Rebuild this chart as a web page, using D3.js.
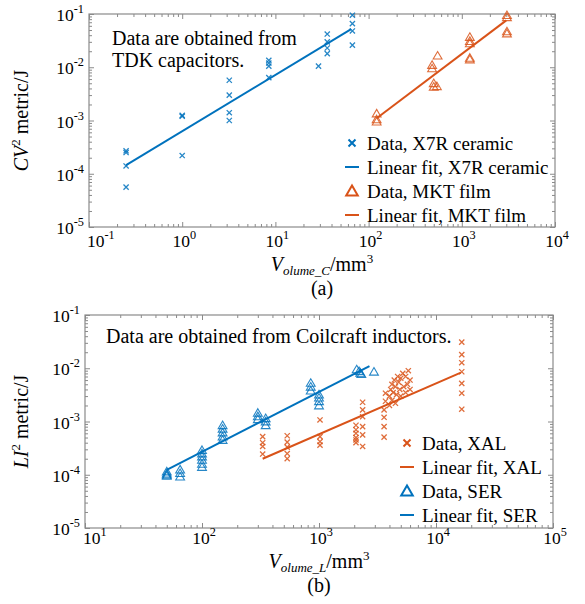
<!DOCTYPE html>
<html><head><meta charset="utf-8">
<script src="https://cdn.jsdelivr.net/npm/d3@7"></script>
<style>
body{margin:0;background:#fff}
svg{display:block}
text{font-family:"Liberation Serif","Times New Roman",serif;fill:#000}
</style>
</head><body>
<svg id="chart" width="585" height="604" font-family="Liberation Serif, serif"></svg>
<script>
// ---------- Panel (a): capacitors ----------
const x7rVol = [0.25,0.25,0.25,0.25, 1,1,1, 3.2,3.2,3.2,3.2, 8.5,8.5,8.5,8.5, 29, 36,36,36,36, 67,67,67,67];
const x7rCV2 = [2.7e-4,2.5e-4,1.4e-4,5.6e-5, 1.25e-3,1.2e-3,2.2e-4, 5.7e-3,3.0e-3,1.4e-3,1.0e-3, 1.35e-2,1.2e-2,1.05e-2,6.4e-3, 1.05e-2, 4.2e-2,3.0e-2,2.3e-2,1.8e-2, 9.5e-2,6.6e-2,4.8e-2,2.6e-2];
const x7rFitVol = [0.25, 65];
const x7rFitCV2 = [1.45e-4, 5.2e-2];

const mktVol = [122,122,122, 480,480,500,500, 550,540, 1220,1220,1220,1220,1220, 3050,3050,3050,3050];
const mktCV2 = [1.35e-3,1.05e-3,9.5e-4, 1.1e-2,9.5e-3,5.0e-3,4.3e-3, 1.65e-2,4.4e-3, 3.7e-2,3.1e-2,2.8e-2,1.5e-2,1.4e-2, 9.5e-2,8.7e-2,4.7e-2,4.3e-2];
const mktFitVol = [122, 3000];
const mktFitCV2 = [1.1e-3, 7.6e-2];

const xTickExpA = [-1,0,1,2,3,4];
const yTickExp = [-1,-2,-3,-4,-5];

// ---------- Panel (b): inductors ----------
const serVol = [50,50,50,50, 65,65,65, 100,100,100,100,100,100, 150,150,150,150,150, 300,300,300, 350,350,350, 850,850,850, 1000,1000,1000,1000, 2100,2200,2250,2300, 2950];
const serLI2 = [1.15e-4,1.05e-4,1.0e-4,9.5e-5, 1.25e-4,1.07e-4,9.2e-5, 2.9e-4,2.5e-4,2.2e-4,1.9e-4,1.6e-4,1.4e-4, 8.5e-4,7.3e-4,6.2e-4,5.2e-4,4.5e-4, 1.45e-3,1.25e-3,1.1e-3, 1.15e-3,1.0e-3,8.5e-4, 5.3e-3,4.5e-3,3.8e-3, 3.2e-3,2.8e-3,2.4e-3,2.0e-3, 9.5e-3,8.8e-3,8.2e-3,7.8e-3, 8.6e-3];
const serFitVol = [50, 2700];
const serFitLI2 = [1.23e-4, 1.1e-2];

const xalVol = [330,330,330,330, 535,535,535,535,535, 1020,1020,1020,1020,
  2070,2070,2070,2070,2070,2070, 2360,2360,2360,2360,2360,2360,
  3600,3600,3600,3600,3700,3700,
  4000,4000,4100,4200,4200,4300,4400,4500,4500,4600,4700,4800,4900,5000,5000,5200,5300,5500,5500,5700,5800,6000,6000,
  16600,16600,16600,16600,16600,16600,16600];
const xalLI2 = [5.2e-4,4.0e-4,3.4e-4,2.45e-4, 5.4e-4,4.1e-4,3.3e-4,2.5e-4,2.0e-4, 1.07e-3,5.2e-4,4.2e-4,3.6e-4,
  8.5e-4,7.0e-4,6.0e-4,5.0e-4,4.5e-4,4.0e-4, 2.3e-3,1.65e-3,1.23e-3,8.0e-4,5.6e-4,3.4e-4,
  1.65e-3,1.2e-3,8.0e-4,5.1e-4,3.4e-3,2.4e-3,
  2.0e-3,3.0e-3,4.0e-3,5.0e-3,2.5e-3,3.5e-3,6.0e-3,4.5e-3,2.2e-3,3.2e-3,7.0e-3,5.5e-3,4.0e-3,3.0e-3,6.5e-3,8.0e-3,4.5e-3,3.5e-3,7.0e-3,5.0e-3,9.0e-3,6.0e-3,4.0e-3,
  3.1e-2,1.8e-2,1.27e-2,8.6e-3,5.2e-3,3.4e-3,1.7e-3];
const xalFitVol = [330, 16300];
const xalFitLI2 = [2.0e-4, 8.3e-3];

const xTickExpB = [1,2,3,4,5];

const blue = "#0072BD", orange = "#D95319";

const svg = d3.select("#chart");

function crossPath(s){ return `M${-s},${-s}L${s},${s}M${-s},${s}L${s},${-s}`; }
function triPath(s){ return `M0,${-s}L${s*1.05},${s*0.8}L${-s*1.05},${s*0.8}Z`; }

function expLabel(sel, exp, size){
  sel.append("tspan").text("10");
  sel.append("tspan").attr("dy", -8).attr("font-size", size*0.7).text(String(exp));
}

function panel(cfg){
  const x = d3.scaleLog().domain(cfg.xDom).range([cfg.left, cfg.right]);
  const y = d3.scaleLog().domain([1e-5, 1e-1]).range([cfg.bottom, cfg.top]);
  const g = svg.append("g");
  const axisCol = "#8a8a8a";

  const majX = cfg.xExp.map(e => Math.pow(10, e));
  const minX = x.ticks().filter(v => Math.abs(Math.log10(v) - Math.round(Math.log10(v))) > 1e-6);
  const majY = yTickExp.map(e => Math.pow(10, e));
  const minY = y.ticks().filter(v => Math.abs(Math.log10(v) - Math.round(Math.log10(v))) > 1e-6);

  function ax(gen, scale, vals, size, tx, ty){
    const a = g.append("g").attr("transform", `translate(${tx},${ty})`)
      .call(gen(scale).tickValues(vals).tickSize(-size).tickFormat(""));
    a.select(".domain").remove();
    a.selectAll("line").attr("stroke", axisCol);
  }
  ax(d3.axisBottom, x, majX, 5, 0, cfg.bottom);
  ax(d3.axisBottom, x, minX, 3, 0, cfg.bottom);
  ax(d3.axisTop, x, majX, 5, 0, cfg.top);
  ax(d3.axisTop, x, minX, 3, 0, cfg.top);
  ax(d3.axisLeft, y, majY, 5, cfg.left, 0);
  ax(d3.axisLeft, y, minY, 3, cfg.left, 0);
  ax(d3.axisRight, y, majY, 5, cfg.right, 0);
  ax(d3.axisRight, y, minY, 3, cfg.right, 0);

  g.append("rect").attr("x", cfg.left).attr("y", cfg.top)
    .attr("width", cfg.right - cfg.left).attr("height", cfg.bottom - cfg.top)
    .attr("fill", "none").attr("stroke", axisCol).attr("stroke-width", 1.2);

  // tick labels
  const fs = 17.5;
  cfg.xExp.forEach((e, i) => {
    const t = g.append("text").attr("font-size", fs)
      .attr("x", i === 0 ? x(Math.pow(10, e)) - 2 : x(Math.pow(10, e)) + 2)
      .attr("y", cfg.bottom + cfg.xLabOff)
      .attr("text-anchor", i === 0 ? "start" : "middle");
    expLabel(t, e, fs);
  });
  yTickExp.forEach(e => {
    const t = g.append("text").attr("font-size", fs)
      .attr("x", cfg.left - 5).attr("y", y(Math.pow(10, e)) + 7)
      .attr("text-anchor", "end");
    expLabel(t, e, fs);
  });

  // x title
  const cx = (cfg.left + cfg.right) / 2;
  const xt = g.append("text").attr("font-size", 20).attr("x", cx).attr("y", cfg.bottom + cfg.xTitleOff).attr("text-anchor", "middle");
  xt.append("tspan").attr("font-style", "italic").text("V");
  xt.append("tspan").attr("font-style", "italic").attr("font-size", 13).attr("dy", 4).text(cfg.sub);
  xt.append("tspan").attr("dy", -4).text("/mm");
  xt.append("tspan").attr("font-size", 13).attr("dy", -8).text("3");
  g.append("text").attr("font-size", 20).attr("x", cx).attr("y", cfg.bottom + cfg.xTitleOff + 24).attr("text-anchor", "middle").text(cfg.tag);

  // y title
  const cy = (cfg.top + cfg.bottom) / 2;
  const yt = g.append("text").attr("font-size", 20).attr("text-anchor", "middle")
    .attr("transform", `translate(28,${cy}) rotate(-90)`);
  yt.append("tspan").attr("font-style", "italic").text(cfg.yVar);
  yt.append("tspan").attr("font-size", 13).attr("dy", -8).text("2");
  yt.append("tspan").attr("dy", 8).text(" metric/J");

  // annotation
  cfg.note.forEach((line, i) => {
    g.append("text").attr("font-size", 20).attr("x", cfg.noteX).attr("y", cfg.noteY + i * 22).text(line);
  });

  // series
  const line = d3.line().x(d => x(d[0])).y(d => y(d[1]));
  cfg.series.forEach(s => {
    const pts = s.xs.map((v, i) => [v, s.ys[i]]);
    if (s.type === "fit") {
      g.append("path").datum(pts).attr("d", line).attr("fill", "none")
        .attr("stroke", s.color).attr("stroke-width", 2);
    } else {
      g.append("g").selectAll("path").data(pts).join("path")
        .attr("transform", d => `translate(${x(d[0])},${y(d[1])})`)
        .attr("d", s.type === "cross" ? crossPath(2.6) : triPath(4.2))
        .attr("fill", "none").attr("stroke", s.color)
        .attr("stroke-width", s.type === "cross" ? 1.3 : 1.1).attr("stroke-opacity", 0.85);
    }
  });

  // legend
  cfg.legend.forEach((it, i) => {
    const ly = cfg.legY + i * 24;
    const mx = cfg.legX;
    if (it.type === "cross") {
      g.append("path").attr("transform", `translate(${mx},${ly})`).attr("d", crossPath(3.5))
        .attr("stroke", it.color).attr("stroke-width", 2).attr("fill", "none");
    } else if (it.type === "tri") {
      g.append("path").attr("transform", `translate(${mx},${ly})`).attr("d", triPath(5.5))
        .attr("stroke", it.color).attr("stroke-width", 2).attr("fill", "none");
    } else {
      g.append("line").attr("x1", mx - 7).attr("x2", mx + 7).attr("y1", ly).attr("y2", ly)
        .attr("stroke", it.color).attr("stroke-width", 2);
    }
    g.append("text").attr("font-size", 19).attr("x", mx + 15).attr("y", ly + 7).text(it.label);
  });
}

panel({
  left: 89, right: 555, top: 14, bottom: 227,
  xDom: [0.1, 1e4], xExp: xTickExpA, xLabOff: 20, xTitleOff: 44,
  sub: "olume_C", tag: "(a)", yVar: "CV",
  note: ["Data are obtained from", "TDK capacitors."], noteX: 112, noteY: 45,
  series: [
    {type: "cross", xs: x7rVol, ys: x7rCV2, color: blue},
    {type: "fit", xs: x7rFitVol, ys: x7rFitCV2, color: blue},
    {type: "tri", xs: mktVol, ys: mktCV2, color: orange},
    {type: "fit", xs: mktFitVol, ys: mktFitCV2, color: orange}
  ],
  legX: 352, legY: 143,
  legend: [
    {type: "cross", color: blue, label: "Data, X7R ceramic"},
    {type: "line", color: blue, label: "Linear fit, X7R ceramic"},
    {type: "tri", color: orange, label: "Data, MKT film"},
    {type: "line", color: orange, label: "Linear fit, MKT film"}
  ]
});

panel({
  left: 85, right: 553, top: 315, bottom: 528,
  xDom: [10, 1e5], xExp: xTickExpB, xLabOff: 16, xTitleOff: 40,
  sub: "olume_L", tag: "(b)", yVar: "LI",
  note: ["Data are obtained from Coilcraft inductors."], noteX: 106, noteY: 343,
  series: [
    {type: "cross", xs: xalVol, ys: xalLI2, color: orange},
    {type: "fit", xs: xalFitVol, ys: xalFitLI2, color: orange},
    {type: "tri", xs: serVol, ys: serLI2, color: blue},
    {type: "fit", xs: serFitVol, ys: serFitLI2, color: blue}
  ],
  legX: 407, legY: 443,
  legend: [
    {type: "cross", color: orange, label: "Data, XAL"},
    {type: "line", color: orange, label: "Linear fit, XAL"},
    {type: "tri", color: blue, label: "Data, SER"},
    {type: "line", color: blue, label: "Linear fit, SER"}
  ]
});
</script>
</body></html>
